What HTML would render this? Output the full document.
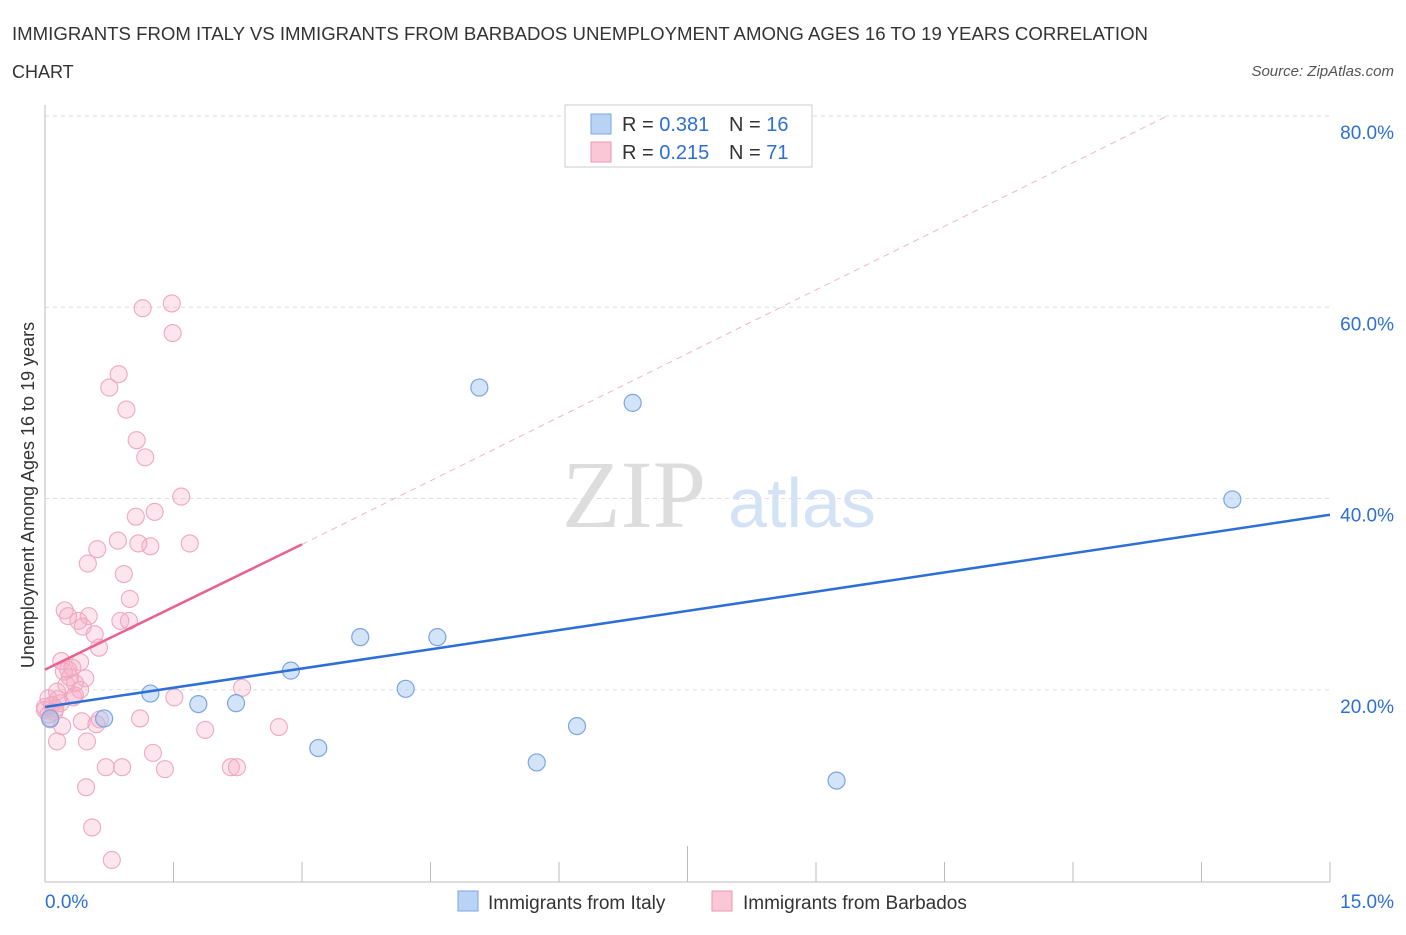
<!DOCTYPE html>
<html><head><meta charset="utf-8"><style>
body{margin:0;background:#fff;font-family:"Liberation Sans",sans-serif;}
svg text{font-family:"Liberation Sans",sans-serif;}
</style></head><body>
<svg id="chart" width="1406" height="930" viewBox="0 0 1406 930">
<text x="12" y="40" font-size="18" fill="#333" textLength="1136" lengthAdjust="spacingAndGlyphs">IMMIGRANTS FROM ITALY VS IMMIGRANTS FROM BARBADOS UNEMPLOYMENT AMONG AGES 16 TO 19 YEARS CORRELATION</text>
<text x="12" y="78" font-size="18" fill="#333">CHART</text>
<text x="1394" y="76" font-size="15" fill="#555" font-style="italic" text-anchor="end">Source: ZipAtlas.com</text>
<text x="634" y="527" font-size="96" fill="#ddd" text-anchor="middle" style="font-family:'Liberation Serif',serif">ZIP</text>
<text x="802" y="527" font-size="70" fill="#d4e2f5" text-anchor="middle">atlas</text>
<g id="grid"></g>
<g id="axes"></g>
<g id="marks"></g>
<text transform="translate(34,495) rotate(-90)" font-size="18" fill="#333" text-anchor="middle">Unemployment Among Ages 16 to 19 years</text>
<g>
<rect x="565" y="105" width="247" height="62" fill="#fff" stroke="#ccc"/>
<rect x="591" y="114" width="20" height="20" fill="#b9d3f5" stroke="#7aa6e0"/>
<text x="622" y="131" font-size="20" fill="#333">R = <tspan fill="#2d6fd6">0.381</tspan></text>
<text x="729" y="131" font-size="20" fill="#333">N = <tspan fill="#2d6fd6">16</tspan></text>
<rect x="591" y="142" width="20" height="20" fill="#f9c7d5" stroke="#ea9ab3"/>
<text x="622" y="159" font-size="20" fill="#333">R = <tspan fill="#2d6fd6">0.215</tspan></text>
<text x="729" y="159" font-size="20" fill="#333">N = <tspan fill="#2d6fd6">71</tspan></text>
</g>
<g>
<rect x="458" y="891" width="20" height="20" fill="#b9d3f5" stroke="#7aa6e0"/>
<text x="488" y="909" font-size="19" fill="#333">Immigrants from Italy</text>
<rect x="712" y="891" width="20" height="20" fill="#f9c7d5" stroke="#ea9ab3"/>
<text x="743" y="909" font-size="19" fill="#333">Immigrants from Barbados</text>
</g>
</svg>
<script>
const yTicks=[20,40,60,80];
const yTickLabels=["20.0%","40.0%","60.0%","80.0%"];
const xTickLabels=["0.0%","15.0%"];
const italyX=[0.06,0.69,1.23,1.79,2.23,2.87,3.19,3.68,4.21,4.58,5.07,5.74,6.21,6.86,9.24,13.86];
const italyY=[17.0,17.0,19.6,18.5,18.6,22.0,13.9,25.5,20.1,25.5,51.6,12.4,16.2,50.0,10.5,39.9];
const barbX=[1.48,1.14,1.49,0.86,0.75,0.95,1.07,1.17,1.59,1.28,1.06,0.85,0.61,1.09,1.23,1.69,0.50,0.92,0.99,0.23,0.27,0.51,0.39,0.44,0.88,0.98,0.58,0.63,0.19,0.41,0.32,0.27,0.47,0.25,0.35,0.14,0.41,0.33,0.04,0.18,2.30,1.51,0.08,0.0,0.04,0.11,1.11,0.43,0.60,0.20,1.87,2.73,0.14,0.49,1.26,0.71,0.90,1.40,2.17,2.24,0.48,0.55,0.78,0.0,0.06,0.29,0.64,0.15,0.35,0.22,0.12];
const barbY=[60.4,59.9,57.3,53.0,51.6,49.3,46.1,44.3,40.2,38.6,38.1,35.6,34.7,35.3,35.0,35.3,33.2,32.1,29.5,28.3,27.7,27.7,27.2,26.6,27.2,27.2,25.8,24.4,23.0,22.9,22.3,22.1,21.2,20.5,20.7,19.8,20.0,19.2,19.1,18.6,20.2,19.2,18.4,18.2,17.4,17.7,17.0,16.7,16.4,16.2,15.8,16.1,14.6,14.6,13.4,11.9,11.9,11.7,11.9,11.9,9.8,5.6,2.2,17.9,16.9,21.3,16.9,19.0,19.4,21.9,18.0];
const italyLine=[[0,18.2],[15,38.3]];
const barbLine=[[0,22.1],[3,35.2]];
const barbDash=[[3,35.2],[13.1,80]];
const NS="http://www.w3.org/2000/svg";
const X=v=>45+v*(1285/15), Y=v=>881-v*(191.25/20);
function mk(t,a,p){const e=document.createElementNS(NS,t);for(const k in a)e.setAttribute(k,a[k]);p.appendChild(e);return e;}
const grid=document.getElementById('grid'),axes=document.getElementById('axes'),marks=document.getElementById('marks');
yTicks.forEach((v,i)=>{
 const l=mk('line',{x1:45,x2:1330,y1:Y(v),y2:Y(v),stroke:'#ddd','stroke-dasharray':'4,4'},grid);
 
 
 const t=mk('text',{x:1394,y:Y(v)+23,'font-size':19,fill:'#2d6fd6','text-anchor':'end'},axes);
 t.textContent=yTickLabels[i];
 
 
});
mk('line',{x1:45,x2:45,y1:105,y2:882,stroke:'#bbb'},axes);
mk('line',{x1:45,x2:1330,y1:882,y2:882,stroke:'#bbb'},axes);
for(let i=0;i<=10;i++){const x=X(i*1.5);mk('line',{x1:x,x2:x,y1:i==5?846:862,y2:882,stroke:'#bbb'},axes);}
const t0=mk('text',{x:45,y:908,'font-size':19,fill:'#2d6fd6'},axes);t0.textContent=xTickLabels[0];


const t1=mk('text',{x:1394,y:908,'font-size':19,fill:'#2d6fd6','text-anchor':'end'},axes);t1.textContent=xTickLabels[1];


barbX.forEach((x,i)=>{const c=mk('circle',{cx:X(x),cy:Y(barbY[i]),r:8.5,fill:'rgba(246,170,195,0.3)',stroke:'#efa8bf','stroke-width':1.1},marks);
 
 });
italyX.forEach((x,i)=>{const c=mk('circle',{cx:X(x),cy:Y(italyY[i]),r:8.5,fill:'rgba(160,195,240,0.45)',stroke:'#7aa6e0','stroke-width':1.2},marks);
 
 });
const dl=mk('line',{x1:X(barbDash[0][0]),y1:Y(barbDash[0][1]),x2:X(barbDash[1][0]),y2:Y(barbDash[1][1]),stroke:'#f0b5c7','stroke-dasharray':'6,5','stroke-width':1},marks);


const bl=mk('line',{x1:X(barbLine[0][0]),y1:Y(barbLine[0][1]),x2:X(barbLine[1][0]),y2:Y(barbLine[1][1]),stroke:'#e8628d','stroke-width':2.5},marks);


const il=mk('line',{x1:X(italyLine[0][0]),y1:Y(italyLine[0][1]),x2:X(italyLine[1][0]),y2:Y(italyLine[1][1]),stroke:'#2d6fd6','stroke-width':2.5},marks);


</script>
</body></html>
